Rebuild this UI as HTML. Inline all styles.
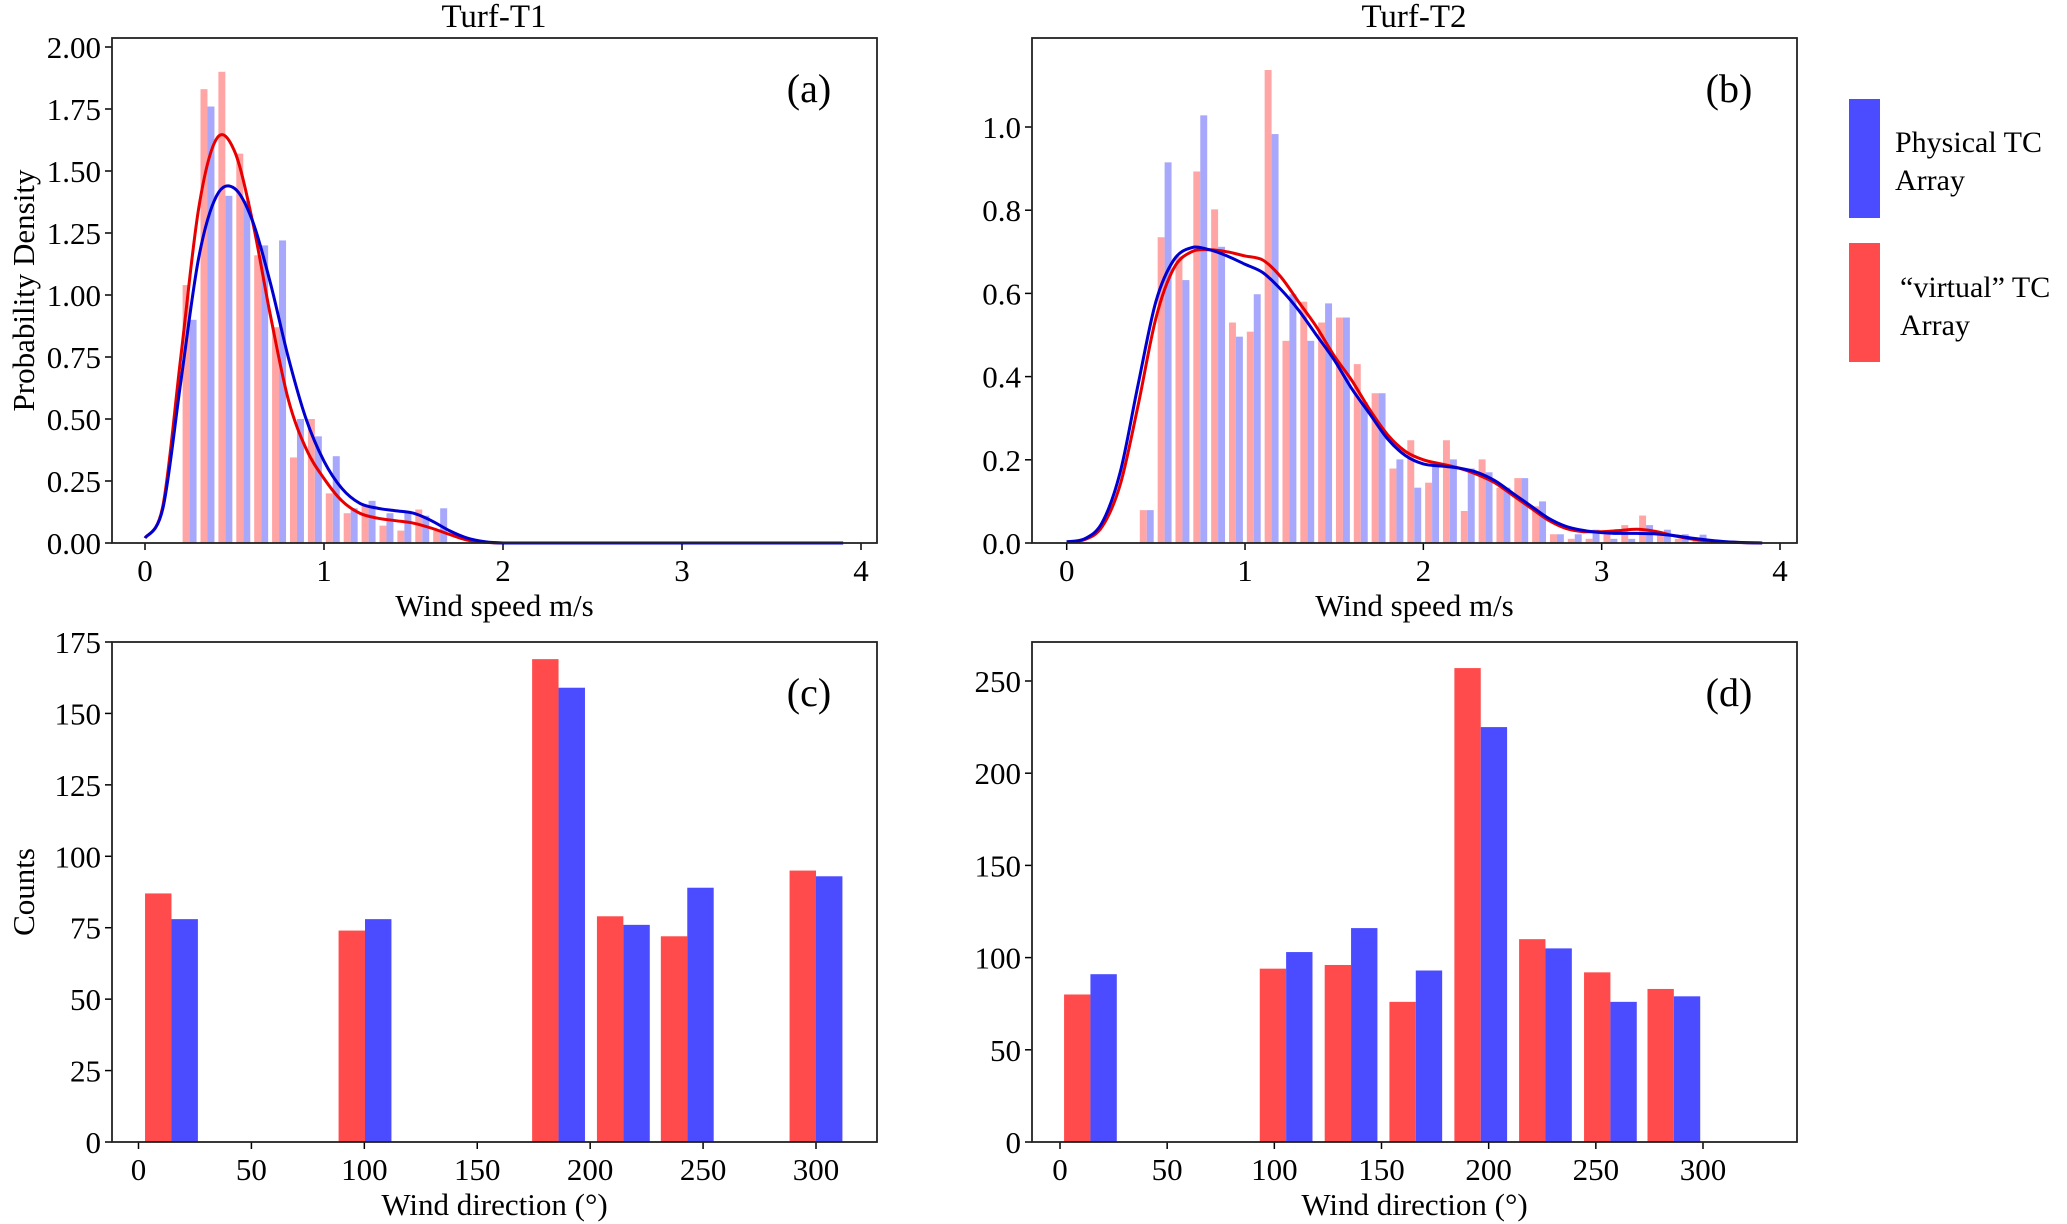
<!DOCTYPE html>
<html><head><meta charset="utf-8">
<style>
html,body{margin:0;padding:0;background:#fff;}
svg{display:block;font-family:"Liberation Serif","Times New Roman",serif;}
</style></head>
<body>
<svg id="fig" width="2067" height="1224" viewBox="0 0 2067 1224" xmlns="http://www.w3.org/2000/svg"></svg>
<script>
// ---- Panel (a) Turf-T1 wind speed histogram ----
const aBins = [0.21,0.31,0.41,0.51,0.61,0.71,0.81,0.91,1.01,1.11,1.21,1.31,1.41,1.51,1.61];
const aRed  = [1.04,1.83,1.90,1.57,1.16,0.87,0.345,0.50,0.20,0.12,0.15,0.07,0.05,0.135,0.05];
const aBlue = [0.90,1.76,1.40,1.38,1.20,1.22,0.50,0.43,0.35,0.14,0.17,0.12,0.13,0.11,0.14];
const kdeX = [0,0.1,0.2,0.3,0.4,0.5,0.6,0.7,0.8,0.9,1.0,1.1,1.2,1.3,1.4,1.5,1.6,1.7,1.8,1.9,2.0,2.2,2.5,3.0,3.5,3.9];
const aKdeRed  = [0.02,0.15,0.75,1.35,1.63,1.58,1.30,0.92,0.58,0.38,0.26,0.17,0.12,0.10,0.09,0.08,0.06,0.035,0.012,0.003,0,0,0,0,0,0];
const aKdeBlue = [0.02,0.14,0.65,1.15,1.40,1.43,1.30,1.05,0.75,0.50,0.33,0.22,0.16,0.14,0.13,0.12,0.09,0.05,0.02,0.005,0,0,0,0,0,0];
const aYTicks = ["0.00","0.25","0.50","0.75","1.00","1.25","1.50","1.75","2.00"];
// ---- Panel (b) Turf-T2 wind speed histogram ----
const bBins = [0.41,0.51,0.61,0.71,0.81,0.91,1.01,1.11,1.21,1.31,1.41,1.51,1.61,1.71,1.81,1.91,2.01,2.11,2.21,2.31,2.41,2.51,2.61,2.71,2.81,2.91,3.01,3.11,3.21,3.31,3.41,3.51];
const bRed  = [0.079,0.735,0.689,0.893,0.802,0.530,0.508,1.137,0.486,0.58,0.53,0.542,0.43,0.36,0.179,0.247,0.145,0.247,0.077,0.201,0.133,0.156,0.088,0.021,0.01,0.01,0.021,0.043,0.066,0.021,0.01,0.01];
const bBlue = [0.079,0.915,0.632,1.028,0.712,0.496,0.598,0.983,0.598,0.486,0.576,0.542,0.338,0.36,0.201,0.133,0.19,0.201,0.179,0.17,0.133,0.156,0.10,0.021,0.021,0.032,0.01,0.01,0.043,0.032,0.021,0.02];
const kdeXb = [0,0.1,0.2,0.3,0.4,0.5,0.6,0.7,0.8,0.9,1.0,1.1,1.2,1.3,1.4,1.5,1.6,1.7,1.8,1.9,2.0,2.1,2.2,2.3,2.4,2.5,2.6,2.7,2.8,2.9,3.0,3.1,3.2,3.3,3.4,3.5,3.6,3.7,3.8,3.9];
const bKdeBlue = [0.003,0.01,0.05,0.17,0.38,0.58,0.68,0.71,0.705,0.69,0.67,0.65,0.61,0.56,0.50,0.44,0.37,0.31,0.25,0.21,0.19,0.185,0.18,0.17,0.15,0.12,0.09,0.06,0.04,0.03,0.025,0.023,0.023,0.022,0.018,0.012,0.007,0.003,0.001,0];
const bKdeRed  = [0.002,0.008,0.04,0.14,0.33,0.54,0.66,0.70,0.705,0.70,0.69,0.68,0.64,0.58,0.52,0.45,0.39,0.32,0.26,0.22,0.20,0.19,0.18,0.165,0.145,0.115,0.085,0.055,0.035,0.027,0.027,0.03,0.033,0.028,0.018,0.01,0.005,0.002,0.001,0];
const bYTicks = ["0.0","0.2","0.4","0.6","0.8","1.0"];
const speedTicks = ["0","1","2","3","4"];
// ---- Panel (c) Turf-T1 wind direction counts ----
const cCenters = [14.6,100.3,186,214.7,243,300];
const cRed  = [87,74,169,79,72,95];
const cBlue = [78,78,159,76,89,93];
const cYTicks = ["0","25","50","75","100","125","150","175"];
// ---- Panel (d) Turf-T2 wind direction counts ----
const dCenters = [14.2,105.5,135.8,166,196.3,226.5,256.8,286.4];
const dRed  = [80,94,96,76,257,110,92,83];
const dBlue = [91,103,116,93,225,105,76,79];
const dYTicks = ["0","50","100","150","200","250"];
const dirTicks = ["0","50","100","150","200","250","300"];

const NS="http://www.w3.org/2000/svg";
const svg=document.getElementById('fig');
function mk(tag,attrs,parent){const e=document.createElementNS(NS,tag);for(const k in attrs)e.setAttribute(k,attrs[k]);(parent||svg).appendChild(e);return e;}
function txt(s,attrs,parent){const e=mk('text',attrs,parent);e.textContent=s;return e;}
function lin(d0,d1,r0,r1){return v=>r0+(v-d0)/(d1-d0)*(r1-r0);}

function frame(name,L,R,T,B,X,Y,xt,yt,xlab,ylab,letter){
  const g=mk('g',{});
  
  
  const ax=mk('g',{},g);
  
  
  xt.forEach(t=>{const x=X(+t);
    mk('line',{x1:x,x2:x,y1:B,y2:B+7,stroke:'#000','stroke-width':1.5},ax);
    const e=txt(t,{x:x,y:B+38,'font-size':31,'text-anchor':'middle'},ax);
    
    });
  const ay=mk('g',{},g);
  
  
  yt.forEach(t=>{const y=Y(+t);
    mk('line',{x1:L-7,x2:L,y1:y,y2:y,stroke:'#000','stroke-width':1.5},ay);
    const e=txt(t,{x:L-11,y:y+11,'font-size':31,'text-anchor':'end'},ay);
    
    });
  const xl=txt(xlab,{x:(L+R)/2,y:B+73,'font-size':31,'text-anchor':'middle'},g);
  
  
  if(ylab){const yl=txt(ylab,{x:0,y:0,'font-size':31,'text-anchor':'middle',transform:`translate(34,${(T+B)/2}) rotate(-90)`},g);
    
    }
  const pl=txt(letter,{x:R-68,y:T+64,'font-size':40,'text-anchor':'middle'},g);
  
  
  return g;
}
function border(g,L,R,T,B){const b=mk('rect',{x:L,y:T,width:R-L,height:B-T,fill:'none',stroke:'#222','stroke-width':1.8},g);
  
  }

function smoothPath(xs,ys,X,Y){
  const p=xs.map((x,i)=>[X(x),Y(ys[i])]);let d=`M${p[0][0]},${p[0][1]}`;
  for(let i=0;i<p.length-1;i++){const p0=p[Math.max(0,i-1)],p1=p[i],p2=p[i+1],p3=p[Math.min(p.length-1,i+2)];
    let c1y=p1[1]+(p2[1]-p0[1])/6,c2y=p2[1]-(p3[1]-p1[1])/6;
    const base=Math.max(p1[1],p2[1]);c1y=Math.min(c1y,Math.max(base,p1[1]));c2y=Math.min(c2y,Math.max(base,p2[1]));
    d+=` C${p1[0]+(p2[0]-p0[0])/6},${c1y} ${p2[0]-(p3[0]-p1[0])/6},${c2y} ${p2[0]},${p2[1]}`;}
  return d;
}

function histPanel(name,L,R,T,B,x0px,x4px,ymaxVal,ymaxPx,bins,red,blue,kx,kr,kb,yt,letter,ylab){
  const X=lin(0,4,x0px,x4px),Y=lin(0,ymaxVal,B,ymaxPx);
  const g=frame(name,L,R,T,B,X,Y,speedTicks,yt,'Wind speed m/s',ylab,letter);
  const w=0.039;
  bins.forEach((b,i)=>{
    const r=mk('rect',{x:X(b),y:Y(red[i]),width:X(b+w)-X(b),height:B-Y(red[i]),fill:'#ffa5a5'},g);
    
    
    const bl=mk('rect',{x:X(b+w),y:Y(blue[i]),width:X(b+w)-X(b),height:B-Y(blue[i]),fill:'#a7a7fb'},g);
    
    
  });
  const kR=mk('path',{d:smoothPath(kx,kr,X,Y),fill:'none',stroke:'#e80000','stroke-width':3},g);
  
  
  const kB=mk('path',{d:smoothPath(kx,kb,X,Y),fill:'none',stroke:'#0000d0','stroke-width':3},g);
  
  
  border(g,L,R,T,B);
}
function countPanel(name,L,R,T,B,x0px,x300px,ymaxVal,ymaxPx,centers,red,blue,bw,yt,letter,ylab){
  const X=lin(0,300,x0px,x300px),Y=lin(0,ymaxVal,B,ymaxPx);
  const g=frame(name,L,R,T,B,X,Y,dirTicks,yt,'Wind direction (°)',ylab,letter);
  centers.forEach((c,i)=>{
    const r=mk('rect',{x:X(c-bw),y:Y(red[i]),width:X(c)-X(c-bw),height:B-Y(red[i]),fill:'#ff4b4b'},g);
    
    
    const bl=mk('rect',{x:X(c),y:Y(blue[i]),width:X(c)-X(c-bw),height:B-Y(blue[i]),fill:'#4b4bff'},g);
    
    
  });
  border(g,L,R,T,B);
}

histPanel('panel-a',112,877,38,543,145,861,2.0,47,aBins,aRed,aBlue,kdeX,aKdeRed,aKdeBlue,aYTicks,'(a)','Probability Density');
histPanel('panel-b',1032,1797,38,543,1066.7,1780,1.0,127,bBins,bRed,bBlue,kdeXb,bKdeRed,bKdeBlue,bYTicks,'(b)',null);
countPanel('panel-c',112,877,642,1142,138.5,816,175,642,cCenters,cRed,cBlue,11.7,cYTicks,'(c)','Counts');
countPanel('panel-d',1032,1797,642,1142,1060,1703,250,681,dCenters,dRed,dBlue,12.3,dYTicks,'(d)',null);

const t1=txt('Turf-T1',{x:494,y:27,'font-size':33,'text-anchor':'middle'});


const t2=txt('Turf-T2',{x:1414,y:27,'font-size':33,'text-anchor':'middle'});



const lg=mk('g',{});


const le1=mk('g',{},lg);


mk('rect',{x:1849,y:99,width:31,height:119,fill:'#4b4bff'},le1);
txt('Physical TC',{x:1895,y:152,'font-size':30},le1);
txt('Array',{x:1895,y:190,'font-size':30},le1);
const le2=mk('g',{},lg);


mk('rect',{x:1849,y:243,width:31,height:119,fill:'#ff4b4b'},le2);
txt('“virtual” TC',{x:1900,y:297,'font-size':30},le2);
txt('Array',{x:1900,y:335,'font-size':30},le2);
</script>
</body></html>
